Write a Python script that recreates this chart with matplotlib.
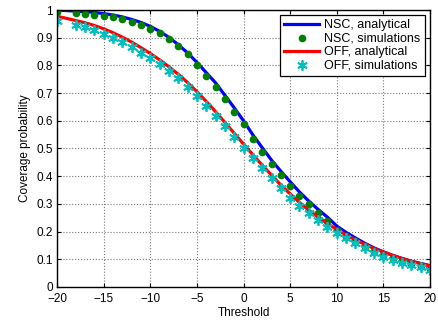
import matplotlib
matplotlib.use('Agg')
import matplotlib.pyplot as plt
import numpy as np

# threshold grid for analytical curves
x_an = list(range(-20, 21))
nsc_analytical = [1.000, 0.998, 0.996, 0.994, 0.991, 0.987, 0.982, 0.975, 0.966, 0.955,
                  0.941, 0.923, 0.901, 0.875, 0.845, 0.811, 0.774, 0.737, 0.692, 0.647,
                  0.600, 0.549, 0.503, 0.458, 0.418, 0.380, 0.343, 0.310, 0.280, 0.252,
                  0.220, 0.197, 0.177, 0.158, 0.141, 0.127, 0.114, 0.103, 0.093, 0.085,
                  0.077]
off_analytical = [0.977, 0.970, 0.962, 0.954, 0.944, 0.932, 0.918, 0.902, 0.884, 0.864,
                  0.843, 0.820, 0.795, 0.768, 0.738, 0.705, 0.670, 0.633, 0.594, 0.555,
                  0.516, 0.477, 0.440, 0.404, 0.368, 0.336, 0.305, 0.277, 0.252, 0.229,
                  0.208, 0.188, 0.170, 0.154, 0.139, 0.126, 0.114, 0.103, 0.093, 0.084,
                  0.076]

# simulation points
x_sim = [-20] + list(range(-18, 21))
nsc_sim = [0.994, 0.990, 0.986, 0.983, 0.978, 0.974, 0.966, 0.957, 0.946, 0.930,
           0.916, 0.894, 0.870, 0.840, 0.801, 0.763, 0.723, 0.678, 0.633, 0.587,
           0.534, 0.489, 0.444, 0.404, 0.366, 0.330, 0.298, 0.268, 0.239, 0.206,
           0.184, 0.165, 0.147, 0.130, 0.116, 0.103, 0.093, 0.084, 0.075, 0.066]
off_sim = [0.962, 0.946, 0.938, 0.927, 0.913, 0.899, 0.883, 0.865, 0.846, 0.826,
           0.805, 0.780, 0.754, 0.722, 0.688, 0.653, 0.617, 0.581, 0.541, 0.503,
           0.466, 0.428, 0.395, 0.357, 0.322, 0.292, 0.266, 0.242, 0.218, 0.196,
           0.176, 0.158, 0.140, 0.124, 0.110, 0.097, 0.088, 0.079, 0.071, 0.062]

x_ticks = list(range(-20, 21, 5))
y_ticks = [0, 0.1, 0.2, 0.3, 0.4, 0.5, 0.6, 0.7, 0.8, 0.9, 1]
y_ticklabels = ['0', '0.1', '0.2', '0.3', '0.4', '0.5', '0.6', '0.7', '0.8', '0.9', '1']

plt.rcParams['font.family'] = ['Liberation Sans', 'DejaVu Sans']

fig = plt.figure(figsize=(4.39, 3.23), dpi=100)
ax = fig.add_axes([0.130, 0.1115, 0.8495, 0.8575])

ax.plot(x_an, nsc_analytical, '-', color='#0000ff', linewidth=2.3, label='NSC, analytical')
ax.plot(x_sim, nsc_sim, 'o', color='#008000', markersize=4.5, linestyle='none',
        label='NSC, simulations')
ax.plot(x_an, off_analytical, '-', color='#ff0000', linewidth=2.3, label='OFF, analytical')
ax.plot(x_sim, off_sim, marker=(6, 2, 0), color='#00bfbf', markersize=7.5, markeredgewidth=1.3,
        linestyle='none', label='OFF, simulations')

ax.set_xlim(-20, 20)
ax.set_ylim(0, 1)
ax.set_xticks(x_ticks)
ax.set_yticks(y_ticks)
ax.set_yticklabels(y_ticklabels)
ax.tick_params(direction='in', top=True, right=True, labelsize=8.5, length=3)
ax.tick_params(axis='x', pad=4.5)
ax.tick_params(axis='y', pad=3)
ax.grid(True, linestyle=':', color='#777777', linewidth=0.8)
for s in ax.spines.values():
    s.set_linewidth(1.0)

ax.set_xlabel('Threshold', fontsize=8.5, labelpad=1)
ax.set_ylabel('Coverage probability', fontsize=8.5, labelpad=4)

leg = ax.legend(loc='upper right', fontsize=9, fancybox=False, framealpha=1,
                edgecolor='black', borderpad=0.35, labelspacing=0.12,
                handlelength=2.8, handletextpad=0.4, borderaxespad=0.4)
leg.get_frame().set_linewidth(0.9)

fig.savefig('out.png', dpi=100)
